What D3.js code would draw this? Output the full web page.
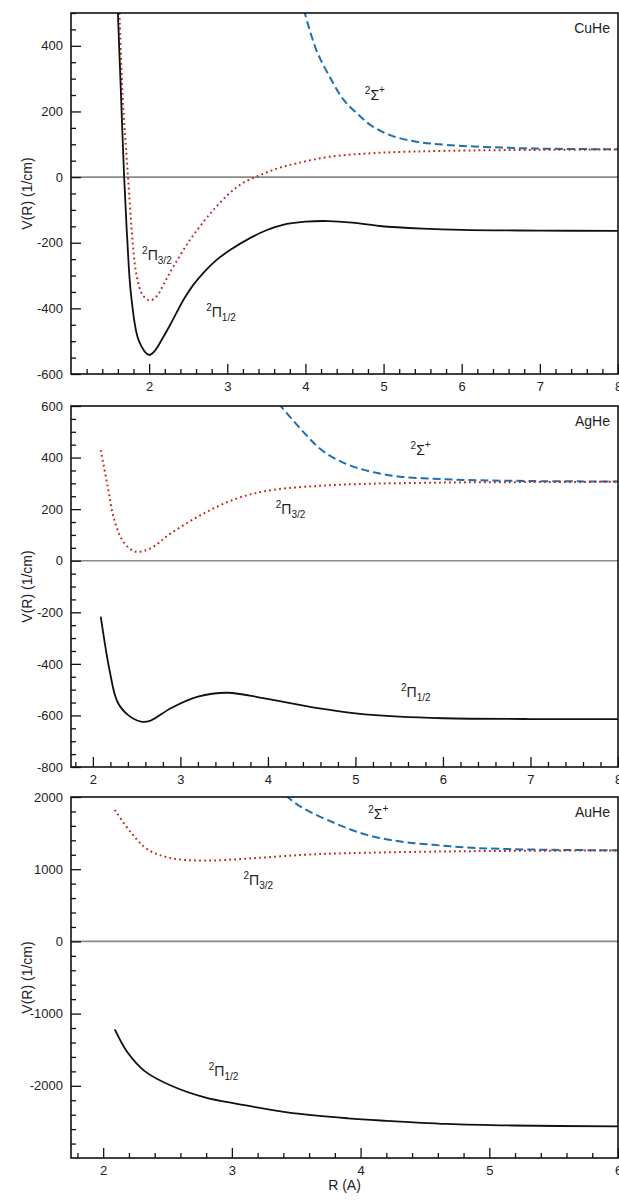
<!DOCTYPE html>
<html>
<head>
<meta charset="utf-8">
<script src="https://cdnjs.cloudflare.com/ajax/libs/d3/7.8.5/d3.min.js"></script>
<style>
  body { margin: 0; background: #fff; }
  svg { display: block; font-family: "Liberation Sans", Arial, Helvetica, sans-serif; }
  .frame { fill: none; stroke: #111; stroke-width: 1.6; }
  .axis text { font-size: 13px; fill: #222; }
  .axis line { stroke: #111; stroke-width: 1.3; }
  .axis path { display: none; }
  .zero { stroke: #8a8a8a; stroke-width: 1.6; }
  .pi12 { fill: none; stroke: #111; stroke-width: 1.8; }
  .pi32 { fill: none; stroke: #c0281e; stroke-width: 2; stroke-dasharray: 1.8 3.2; }
  .sigma { fill: none; stroke: #1f6fae; stroke-width: 2; stroke-dasharray: 8 4; }
  .lbl { font-size: 14px; fill: #222; }
</style>
</head>
<body>
<div id="chart"></div>
<script>
// ---- CuHe : [R (A), V (1/cm)]
const cuPi12 = [[1.60,500],[1.64,250],[1.68,0],[1.72,-190],[1.77,-362],[1.87,-500],[2.00,-542],[2.07,-530],
  [2.17,-492],[2.27,-450],[2.44,-374],[2.56,-330],[2.70,-290],[2.86,-253],[3.05,-220],[3.29,-186],
  [3.50,-162],[3.70,-146],[4.00,-136],[4.30,-134],[4.60,-139],[4.95,-149],[5.50,-157],[6.00,-161],[7.00,-163],[8.00,-164]];
const cuPi32 = [[1.62,500],[1.66,250],[1.70,100],[1.73,0],[1.79,-200],[1.84,-300],[1.92,-360],[2.01,-376],
  [2.10,-362],[2.20,-320],[2.31,-273],[2.52,-192],[2.70,-135],[2.86,-90],[3.03,-49],[3.20,-18],
  [3.42,6],[3.65,27],[3.89,42],[4.31,62],[4.95,74],[5.81,80],[7.00,83],[8.00,84]];
const cuSigma = [[3.98,510],[4.14,387],[4.31,306],[4.49,235],[4.66,194],[4.83,159],[5.08,128],
  [5.42,108],[5.81,98],[6.50,90],[7.20,86],[8.00,85]];

// ---- AgHe
const agPi12 = [[2.09,-217],[2.19,-424],[2.28,-547],[2.40,-598],[2.55,-624],[2.66,-620],[2.89,-572],
  [3.20,-527],[3.54,-512],[3.96,-534],[4.57,-572],[5.00,-592],[5.50,-605],[6.00,-611],[7.00,-614],[8.00,-614]];
const agPi32 = [[2.09,429],[2.17,287],[2.245,158],[2.36,68],[2.49,35],[2.66,48],[2.89,106],[3.27,184],
  [3.65,242],[4.04,274],[4.57,290],[5.00,297],[6.00,303],[7.00,305],[8.00,306]];
const agSigma = [[4.12,610],[4.42,494],[4.61,430],[4.80,390],[5.00,362],[5.25,340],[5.51,326],
  [5.89,318],[6.27,313],[7.00,309],[8.00,307]];

// ---- AuHe
const auPi12 = [[2.09,-1218],[2.19,-1540],[2.32,-1793],[2.53,-2000],[2.79,-2161],[3.05,-2253],[3.43,-2368],
  [3.90,-2450],[4.20,-2485],[4.67,-2528],[5.18,-2550],[6.00,-2562]];
const auPi32 = [[2.09,1820],[2.22,1499],[2.35,1268],[2.53,1153],[2.79,1120],[3.17,1153],[3.56,1199],
  [3.90,1222],[4.50,1242],[5.00,1252],[6.00,1260]];
const auSigma = [[3.42,2020],[3.53,1870],[3.80,1637],[4.05,1475],[4.31,1383],[4.57,1337],[4.82,1300],
  [5.08,1282],[5.50,1268],[6.00,1262]];

// axes
const cuXDomain = [1, 8], cuYDomain = [-600, 500];
const agXDomain = [1.75, 8], agYDomain = [-800, 600];
const auXDomain = [1.75, 6], auYDomain = [-3000, 2000];
const cuXTicks = [2, 3, 4, 5, 6, 7, 8], cuYTicks = [400, 200, 0, -200, -400, -600];
const agXTicks = [2, 3, 4, 5, 6, 7, 8], agYTicks = [600, 400, 200, 0, -200, -400, -600, -800];
const auXTicks = [2, 3, 4, 5, 6], auYTicks = [2000, 1000, 0, -1000, -2000];
const yMinorSteps = [50, 50, 200];

// state labels, anchored in data coordinates
const cuLabels = [{main: 'Σ', sup: '+', R: 4.76, V: 235}, {main: 'Π', sub: '3/2', R: 1.91, V: -253}, {main: 'Π', sub: '1/2', R: 2.73, V: -426}];
const agLabels = [{main: 'Σ', sup: '+', R: 5.63, V: 410}, {main: 'Π', sub: '3/2', R: 4.09, V: 181}, {main: 'Π', sub: '1/2', R: 5.52, V: -529}];
const auLabels = [{main: 'Σ', sup: '+', R: 4.06, V: 1696}, {main: 'Π', sub: '3/2', R: 3.09, V: 785}, {main: 'Π', sub: '1/2', R: 2.82, V: -1867}];

const panels = [
  {name: 'CuHe', x: cuXDomain, y: cuYDomain, xt: cuXTicks, yt: cuYTicks, pi12: cuPi12, pi32: cuPi32, sigma: cuSigma, labels: cuLabels},
  {name: 'AgHe', x: agXDomain, y: agYDomain, xt: agXTicks, yt: agYTicks, pi12: agPi12, pi32: agPi32, sigma: agSigma, labels: agLabels},
  {name: 'AuHe', x: auXDomain, y: auYDomain, xt: auXTicks, yt: auYTicks, pi12: auPi12, pi32: auPi32, sigma: auSigma, labels: auLabels}
];

const W = 619, H = 1200;
const left = 71, right = 618;
const tops = [13, 406, 797];
const ph = 361;

const svg = d3.select('#chart').append('svg').attr('width', W).attr('height', H);

panels.forEach((p, i) => {
  const top = tops[i];
  const x = d3.scaleLinear().domain(p.x).range([left, right]);
  const y = d3.scaleLinear().domain(p.y).range([top + ph, top]);
  const g = svg.append('g');

  const clipId = 'clip' + i;
  svg.append('clipPath').attr('id', clipId)
    .append('rect').attr('x', left).attr('y', top).attr('width', right - left).attr('height', ph);

  const plot = g.append('g').attr('clip-path', `url(#${clipId})`);

  plot.append('line').attr('class', 'zero')
    .attr('x1', left).attr('x2', right).attr('y1', y(0)).attr('y2', y(0));

  const line = d3.line().x(d => x(d[0])).y(d => y(d[1])).curve(d3.curveCatmullRom.alpha(0.5));
  plot.append('path').attr('class', 'sigma').attr('d', line(p.sigma));
  plot.append('path').attr('class', 'pi32').attr('d', line(p.pi32));
  plot.append('path').attr('class', 'pi12').attr('d', line(p.pi12));

  // minor ticks
  const xMinor = d3.range(Math.ceil(p.x[0] / 0.2 - 1e-6), Math.floor(p.x[1] / 0.2 + 1e-6) + 1)
    .map(k => +(k * 0.2).toFixed(2))
    .filter(v => v > p.x[0] + 1e-6 && !p.xt.includes(v));
  const ys = yMinorSteps[i];
  const yMinor = d3.range(p.y[0], p.y[1] + 1, ys).filter(v => !p.yt.includes(v) && v > p.y[0]);

  g.append('g').attr('class', 'axis')
    .attr('transform', `translate(0,${top + ph})`)
    .call(d3.axisBottom(x).tickValues(xMinor).tickSize(-5).tickFormat(''));
  g.append('g').attr('class', 'axis')
    .attr('transform', `translate(0,${top + ph})`)
    .call(d3.axisBottom(x).tickValues(p.xt).tickSize(-10).tickPadding(8).tickFormat(d3.format('d')));

  g.append('g').attr('class', 'axis')
    .attr('transform', `translate(${left},0)`)
    .call(d3.axisLeft(y).tickValues(yMinor).tickSize(-5).tickFormat(''));
  g.append('g').attr('class', 'axis')
    .attr('transform', `translate(${left},0)`)
    .call(d3.axisLeft(y).tickValues(p.yt).tickSize(-10).tickPadding(8).tickFormat(d => String(d)));

  g.append('rect').attr('class', 'frame')
    .attr('x', left).attr('y', top).attr('width', right - left).attr('height', ph);

  g.append('text').attr('class', 'lbl')
    .attr('x', 610).attr('y', top + 20).attr('text-anchor', 'end').text(p.name);

  // state labels
  p.labels.forEach(l => {
    const t = g.append('text').attr('class', 'lbl').attr('x', x(l.R)).attr('y', y(l.V));
    t.append('tspan').attr('font-size', 10).attr('dy', -6).text('2');
    t.append('tspan').attr('font-size', 14).attr('dy', 6).text(l.main);
    if (l.sub) t.append('tspan').attr('font-size', 10).attr('dy', 4).text(l.sub);
    if (l.sup) t.append('tspan').attr('font-size', 10).attr('dy', -7).text(l.sup);
  });

  svg.append('text').attr('class', 'lbl')
    .attr('transform', `translate(32,${top + ph / 2}) rotate(-90)`)
    .attr('text-anchor', 'middle').attr('font-size', 15).text('V(R) (1/cm)');
});

svg.append('text').attr('class', 'lbl')
  .attr('x', (left + right) / 2).attr('y', 1190)
  .attr('text-anchor', 'middle').text('R (A)');
</script>
</body>
</html>
